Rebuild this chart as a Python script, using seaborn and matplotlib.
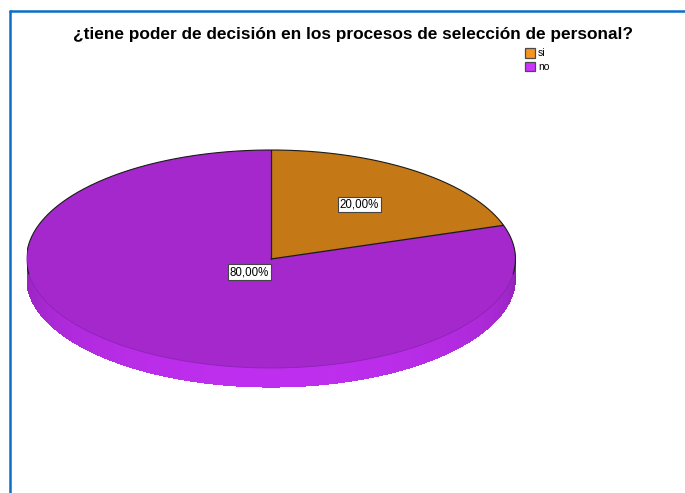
import numpy as np
import matplotlib
matplotlib.use("Agg")
import matplotlib.pyplot as plt
import seaborn as sns
from matplotlib.lines import Line2D
from matplotlib.patches import Polygon, Rectangle
from matplotlib.colors import to_rgb

# ---- data ----
categories = ["si", "no"]
values = [20.0, 80.0]
value_labels = ["20,00%", "80,00%"]
title = "¿tiene poder de decisión en los procesos de selección de personal?"

# ---- style ----
sns.set_theme(style="white")
plt.rcParams["font.family"] = ["Liberation Sans", "DejaVu Sans"]

face_colors = ["#C47816", "#A428CC"]     # top face of each slice
side_colors = ["#E08C1C", "#BE2EEE"]     # rim of each slice
legend_colors = ["#F7941D", "#CC33FF"]
label_radius = [0.615, 0.15]
depth = 0.175                            # rim height in units of the y radius
frame_blue = "#0A6EC8"

W, H = 685, 493
fig = plt.figure(figsize=(W / 100, H / 100), dpi=100)
fig.patch.set_facecolor("white")

# frame of the output panel
fig.add_artist(Line2D([10 / W, 10 / W], [0, 1 - 11 / H], color=frame_blue, lw=1.8))
fig.add_artist(Line2D([10 / W, 1], [1 - 11 / H, 1 - 11 / H], color=frame_blue, lw=1.8))

# title
fig.text(353 / W, 1 - 34 / H, title, ha="center", va="center",
         fontsize=12.4, fontweight="bold", color="black")

# legend
for i, (cat, col) in enumerate(zip(categories, legend_colors)):
    y0 = 48 + i * 13.5
    fig.add_artist(Rectangle((525 / W, 1 - (y0 + 9.5) / H), 9.5 / W, 9.5 / H,
                             transform=fig.transFigure, facecolor=col,
                             edgecolor="#4a4a4a", lw=0.9))
    fig.text(538 / W, 1 - (y0 + 5) / H, cat, ha="left", va="center",
             fontsize=7.5, color="black")

# pie axes: unit circle stretched into the ellipse of the pie top
left_px, right_px = 26.5, 515.5
cy_px, ry_px = 259, 109
top_px, bot_px = 140, 395
ax = fig.add_axes([left_px / W, 1 - bot_px / H, (right_px - left_px) / W,
                   (bot_px - top_px) / H])

# slice angles, clockwise from 12 o'clock
fracs = np.array(values) / np.sum(values)
bounds = 90 - 360 * np.concatenate([[0], np.cumsum(fracs)])

# rim (only the front half, 180..360 degrees, is visible)
for i in range(len(values)):
    a_hi, a_lo = bounds[i], bounds[i + 1]
    base = np.array(to_rgb(side_colors[i]))
    for k in range(-1, 3):
        lo = max(a_lo + 360 * k, 180)
        hi = min(a_hi + 360 * k, 360)
        if hi <= lo:
            continue
        steps = np.linspace(lo, hi, int((hi - lo) * 2) + 2)
        rad = np.radians(steps)
        outline = np.concatenate([
            np.column_stack([np.cos(rad), np.sin(rad)]),
            np.column_stack([np.cos(rad[::-1]), np.sin(rad[::-1]) - depth])])
        ax.add_patch(Polygon(outline, closed=True, facecolor=base * 0.8,
                             edgecolor="none", zorder=1))
        for t0, t1 in zip(steps[:-1], steps[1:]):
            tm = np.radians((t0 + t1) / 2)
            shade = 0.72 + 0.28 * (-np.sin(tm)) ** 0.6
            col = np.clip(base * shade, 0, 1)
            r0, r1 = np.radians(t0 - 0.3), np.radians(t1 + 0.3)
            pts = [(np.cos(r0), np.sin(r0) + 0.01), (np.cos(r1), np.sin(r1) + 0.01),
                   (np.cos(r1), np.sin(r1) - depth), (np.cos(r0), np.sin(r0) - depth)]
            ax.add_patch(Polygon(pts, closed=True, facecolor=col, edgecolor="none",
                                 antialiased=False, zorder=1.1))

# top face
wedges, _ = ax.pie(values, colors=face_colors, startangle=90, counterclock=False,
                   radius=1, center=(0, 0), frame=True,
                   wedgeprops=dict(linewidth=0, zorder=2))

# outline: back arc and slice borders in black, front arc softer
t_back = np.radians(np.linspace(-8, 188, 400))
ax.plot(np.cos(t_back), np.sin(t_back), color="#1a1a1a", lw=0.8, zorder=3)
t_front = np.radians(np.linspace(188, 352, 400))
ax.plot(np.cos(t_front), np.sin(t_front), color="#8E22B4", lw=0.6, zorder=3)
for b in bounds[:-1]:
    r = np.radians(b)
    ax.plot([0, np.cos(r)], [0, np.sin(r)], color="#1a1a1a", lw=0.9, zorder=3)

# value labels
for i, txt in enumerate(value_labels):
    mid = np.radians((bounds[i] + bounds[i + 1]) / 2)
    rr = label_radius[i]
    ax.text(rr * np.cos(mid), rr * np.sin(mid), txt, ha="center", va="center",
            fontsize=8.3, color="black", zorder=5,
            bbox=dict(boxstyle="square,pad=0.15", facecolor="white",
                      edgecolor="#444444", lw=0.8))

ax.set_aspect("auto")
ax.set_xlim(-1, 1)
ax.set_ylim(-(bot_px - cy_px) / ry_px, (cy_px - top_px) / ry_px)
ax.axis("off")

fig.savefig("out.png", dpi=100, facecolor="white")
